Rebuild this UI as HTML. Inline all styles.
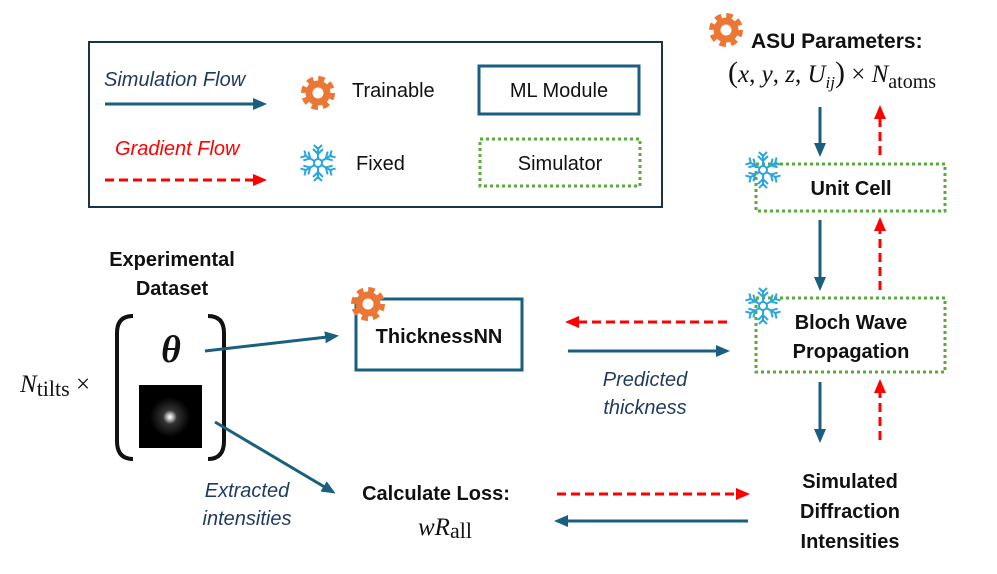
<!DOCTYPE html>
<html><head><meta charset="utf-8"><style>
body{margin:0;background:#fff}
svg{display:block}
.b{font-family:"Liberation Sans",sans-serif;font-weight:bold;fill:#111}
.s{font-family:"Liberation Sans",sans-serif;fill:#111}
.i{font-family:"Liberation Sans",sans-serif;font-style:italic;fill:#1f3a5f}
.m{font-family:"Liberation Serif","DejaVu Serif",serif;fill:#111}
</style></head><body>
<svg width="997" height="574" viewBox="0 0 997 574" xmlns="http://www.w3.org/2000/svg">
<defs>
<marker id="ab" markerWidth="14" markerHeight="14" refX="11" refY="7" orient="auto" markerUnits="userSpaceOnUse" viewBox="0 0 14 14"><path d="M0,1 L14,7 L0,13z" fill="#1a5f7f"/></marker>
<marker id="ar" markerWidth="14" markerHeight="14" refX="11" refY="7" orient="auto" markerUnits="userSpaceOnUse" viewBox="0 0 14 14"><path d="M0,1 L14,7 L0,13z" fill="#f00"/></marker>
<g id="gear"><circle r="13.5" fill="none" stroke="#ec7634" stroke-width="7" stroke-dasharray="6 4.6"/><circle r="12.5" fill="#ec7634"/><circle r="5.5" fill="#fff"/></g>
<g id="arm" stroke="#2aa6df" stroke-width="2" fill="none"><line x1="0" y1="-4" x2="0" y2="-16"/><path d="M-5,-14 L0,-9 L5,-14"/><path d="M-4,-18 L0,-14 L4,-18"/></g>
<g id="flake"><use href="#arm"/><use href="#arm" transform="rotate(60)"/><use href="#arm" transform="rotate(120)"/><use href="#arm" transform="rotate(180)"/><use href="#arm" transform="rotate(240)"/><use href="#arm" transform="rotate(300)"/><circle r="4" fill="none" stroke="#2aa6df" stroke-width="2"/></g>
</defs>
<style>
.bl{stroke:#1a5f7f;stroke-width:3;fill:none}
.rd{stroke:#f00;stroke-width:3;fill:none;stroke-dasharray:9 5}
.gb{stroke:#5aab3c;stroke-width:3;fill:none;stroke-dasharray:3 3}
</style>
<!-- legend -->
<rect x="89" y="42" width="573" height="165" fill="none" stroke="#1b3445" stroke-width="2"/>
<text class="i" x="104" y="86" font-size="20">Simulation Flow</text>
<line class="bl" x1="105" y1="104" x2="264" y2="104" marker-end="url(#ab)"/>
<text class="i" x="115" y="155" font-size="20" style="fill:#f00">Gradient Flow</text>
<line class="rd" x1="105" y1="180" x2="264" y2="180" marker-end="url(#ar)"/>
<use href="#gear" x="318" y="93"/>
<text class="s" x="352" y="97" font-size="20">Trainable</text>
<use href="#flake" x="318" y="163"/>
<text class="s" x="356" y="170" font-size="20">Fixed</text>
<rect x="479" y="66" width="160" height="48" class="bl"/>
<text class="s" x="559" y="97" font-size="20" text-anchor="middle">ML Module</text>
<rect x="480" y="139" width="160" height="47" class="gb"/>
<text class="s" x="560" y="170" font-size="20" text-anchor="middle">Simulator</text>
<!-- ASU -->
<use href="#gear" x="726" y="30"/>
<text class="b" x="751" y="48" font-size="21">ASU Parameters:</text>
<text class="m" x="728" y="82" font-size="25"><tspan font-size="30">(</tspan><tspan font-style="italic">x</tspan>, <tspan font-style="italic">y</tspan>, <tspan font-style="italic">z</tspan>, <tspan font-style="italic">U</tspan><tspan font-style="italic" font-size="17" dy="6">ij</tspan><tspan dy="-6" font-size="30">)</tspan> × <tspan font-style="italic">N</tspan><tspan font-size="20" dy="6">atoms</tspan></text>
<line class="bl" x1="820" y1="107" x2="820" y2="154" marker-end="url(#ab)"/>
<line class="rd" x1="880" y1="155" x2="880" y2="108" marker-end="url(#ar)"/>
<rect x="756" y="164" width="189" height="47" class="gb"/>
<use href="#flake" x="763" y="170"/>
<text class="b" x="851" y="195" font-size="20" text-anchor="middle">Unit Cell</text>
<line class="bl" x1="820" y1="220" x2="820" y2="288" marker-end="url(#ab)"/>
<line class="rd" x1="880" y1="290" x2="880" y2="220" marker-end="url(#ar)"/>
<rect x="756" y="298" width="189" height="74" class="gb"/>
<use href="#flake" x="763" y="306"/>
<text class="b" x="851" y="329" font-size="20" text-anchor="middle">Bloch Wave</text>
<text class="b" x="851" y="358" font-size="20" text-anchor="middle">Propagation</text>
<line class="bl" x1="820" y1="382" x2="820" y2="440" marker-end="url(#ab)"/>
<line class="rd" x1="880" y1="440" x2="880" y2="382" marker-end="url(#ar)"/>
<text class="b" x="850" y="488" font-size="20" text-anchor="middle">Simulated</text>
<text class="b" x="850" y="518" font-size="20" text-anchor="middle">Diffraction</text>
<text class="b" x="850" y="548" font-size="20" text-anchor="middle">Intensities</text>
<!-- ThicknessNN -->
<rect x="356" y="299" width="166" height="71" class="bl"/>
<use href="#gear" x="368" y="304"/>
<text class="b" x="439" y="343" font-size="20" text-anchor="middle">ThicknessNN</text>
<line class="rd" x1="727" y1="322" x2="568" y2="322" marker-end="url(#ar)"/>
<line class="bl" x1="568" y1="351" x2="727" y2="351" marker-end="url(#ab)"/>
<text class="i" x="645" y="386" font-size="20" text-anchor="middle">Predicted</text>
<text class="i" x="645" y="414" font-size="20" text-anchor="middle">thickness</text>
<!-- loss -->
<text class="b" x="436" y="500" font-size="20" text-anchor="middle">Calculate Loss:</text>
<text class="m" x="418" y="535" font-size="25"><tspan font-style="italic">wR</tspan><tspan font-size="22" dy="3">all</tspan></text>
<line class="rd" x1="557" y1="494" x2="747" y2="494" marker-end="url(#ar)"/>
<line class="bl" x1="748" y1="521" x2="557" y2="521" marker-end="url(#ab)"/>
<!-- experimental -->
<text class="b" x="172" y="266" font-size="20" text-anchor="middle">Experimental</text>
<text class="b" x="172" y="295" font-size="20" text-anchor="middle">Dataset</text>
<path d="M133,316 Q117,316 117,333 L117,441 Q117,459 133,459" fill="none" stroke="#111" stroke-width="4"/>
<path d="M208,316 Q224,316 224,333 L224,441 Q224,459 208,459" fill="none" stroke="#111" stroke-width="4"/>
<text class="m" x="171" y="362" font-size="38" font-weight="bold" font-style="italic" text-anchor="middle">θ</text>
<defs><radialGradient id="rg"><stop offset="0" stop-color="#fff"/><stop offset="0.12" stop-color="#ccc"/><stop offset="0.35" stop-color="#333"/><stop offset="1" stop-color="#000"/></radialGradient></defs>
<rect x="139" y="385" width="63" height="63" fill="#000"/>
<circle cx="170" cy="417" r="20" fill="url(#rg)"/>
<text class="m" x="20" y="392" font-size="25"><tspan font-style="italic">N</tspan><tspan font-size="22" dy="4">tilts</tspan><tspan dy="-4"> ×</tspan></text>
<line class="bl" x1="205" y1="351" x2="336" y2="336" marker-end="url(#ab)"/>
<line class="bl" x1="215" y1="422" x2="333" y2="492" marker-end="url(#ab)"/>
<text class="i" x="247" y="497" font-size="20" text-anchor="middle">Extracted</text>
<text class="i" x="247" y="525" font-size="20" text-anchor="middle">intensities</text>
</svg>
</body></html>
